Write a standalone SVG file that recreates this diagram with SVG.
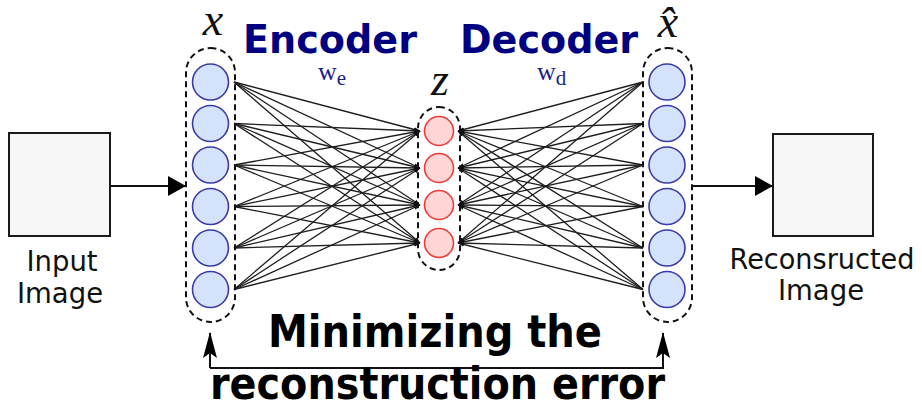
<svg xmlns="http://www.w3.org/2000/svg" width="922" height="412" viewBox="0 0 922 412">
  <style>
    .box { fill: #f7f7f7; stroke: #1a1a1a; stroke-width: 2; }
    .cap { font-family: "DejaVu Sans", Verdana, sans-serif; font-size: 27.5px; fill: #111; text-anchor: middle; }
    .title { font-family: "DejaVu Sans", Verdana, sans-serif; font-weight: bold; font-size: 39px; fill: #000080; }
    .w { font-family: "Liberation Serif", "Times New Roman", serif; font-size: 26px; fill: #1c1c8a; }
    .var { font-family: "Liberation Serif", "Times New Roman", serif; font-style: italic; font-size: 46px; fill: #111; text-anchor: middle; }
    .big { font-family: "DejaVu Sans", Verdana, sans-serif; font-weight: bold; font-size: 45px; fill: #000; text-anchor: middle; }
    .group { fill: none; stroke: #111; stroke-width: 2; stroke-dasharray: 6 4; }
    .xn { fill: #d4e3fb; stroke: #3b3ba8; stroke-width: 1.6; }
    .zn { fill: #ffd6d6; stroke: #f03a3a; stroke-width: 1.6; }
    .w1 { stroke: #1e1e1e; stroke-width: 1.3; fill: none; }
    .arrow { stroke: #111; stroke-width: 2; fill: none; }
  </style>
  <defs>
    <marker id="tiny" viewBox="0 0 10 10" refX="10" refY="5" markerWidth="6" markerHeight="6" markerUnits="userSpaceOnUse" orient="auto">
      <path d="M0,1 L10,5 L0,9 z" fill="#111"/>
    </marker>
    <marker id="head" viewBox="0 0 18 20" refX="18" refY="10" markerWidth="18" markerHeight="20" markerUnits="userSpaceOnUse" orient="auto">
      <path d="M0,0 L18,10 L0,20 z" fill="#000"/>
    </marker>
    <marker id="notch" viewBox="0 0 26 14" refX="25" refY="7" markerWidth="26" markerHeight="14" markerUnits="userSpaceOnUse" orient="auto">
      <path d="M0,0 L26,7 L0,14 L5,7 z" fill="#000"/>
    </marker>
  </defs>

  <!-- image boxes -->
  <g id="input">
    <rect class="box" x="9" y="133" width="101" height="103"/>
    <text class="cap" x="62" y="271">Input</text>
    <text class="cap" x="60" y="303">Image</text>
  </g>
  <g id="output">
    <rect class="box" x="773" y="134" width="100" height="102"/>
    <text class="cap" x="822" y="269" textLength="185" lengthAdjust="spacingAndGlyphs">Reconsructed</text>
    <text class="cap" x="821" y="300">Image</text>
  </g>

  <!-- layer weights -->
  <g id="connectors">
    <g id="encoder-weights" class="w1" marker-end="url(#tiny)">
      <path d="M234,82 L420,131"/><path d="M234,82 L420,168"/><path d="M234,82 L420,205"/><path d="M234,82 L420,243"/>
      <path d="M234,123.5 L420,131"/><path d="M234,123.5 L420,168"/><path d="M234,123.5 L420,205"/><path d="M234,123.5 L420,243"/>
      <path d="M234,165 L420,131"/><path d="M234,165 L420,168"/><path d="M234,165 L420,205"/><path d="M234,165 L420,243"/>
      <path d="M234,206.5 L420,131"/><path d="M234,206.5 L420,168"/><path d="M234,206.5 L420,205"/><path d="M234,206.5 L420,243"/>
      <path d="M234,248 L420,131"/><path d="M234,248 L420,168"/><path d="M234,248 L420,205"/><path d="M234,248 L420,243"/>
      <path d="M234,289.5 L420,131"/><path d="M234,289.5 L420,168"/><path d="M234,289.5 L420,205"/><path d="M234,289.5 L420,243"/>
    </g>
    <g id="decoder-weights" class="w1" marker-end="url(#tiny)">
      <path d="M643,82 L458,131"/><path d="M643,82 L458,168"/><path d="M643,82 L458,205"/><path d="M643,82 L458,243"/>
      <path d="M643,123.5 L458,131"/><path d="M643,123.5 L458,168"/><path d="M643,123.5 L458,205"/><path d="M643,123.5 L458,243"/>
      <path d="M643,165 L458,131"/><path d="M643,165 L458,168"/><path d="M643,165 L458,205"/><path d="M643,165 L458,243"/>
      <path d="M643,206.5 L458,131"/><path d="M643,206.5 L458,168"/><path d="M643,206.5 L458,205"/><path d="M643,206.5 L458,243"/>
      <path d="M643,248 L458,131"/><path d="M643,248 L458,168"/><path d="M643,248 L458,205"/><path d="M643,248 L458,243"/>
      <path d="M643,289.5 L458,131"/><path d="M643,289.5 L458,168"/><path d="M643,289.5 L458,205"/><path d="M643,289.5 L458,243"/>
    </g>
    <path class="arrow" d="M110,186 L186,186" marker-end="url(#head)"/>
    <path class="arrow" d="M692,186 L773,186" marker-end="url(#head)"/>
    <path class="arrow" d="M210,368 L210,333" marker-end="url(#notch)" stroke-width="1.6"/>
    <path class="arrow" d="M210,368 L663,368 L663,333" marker-end="url(#notch)" stroke-width="1.6"/>
  </g>

  <!-- input layer x -->
  <g id="layer-x">
    <rect class="group" x="186" y="48" width="49" height="274" rx="24.5"/>
    <circle class="xn" cx="210.5" cy="82" r="18"/>
    <circle class="xn" cx="210.5" cy="123.5" r="18"/>
    <circle class="xn" cx="210.5" cy="165" r="18"/>
    <circle class="xn" cx="210.5" cy="206.5" r="18"/>
    <circle class="xn" cx="210.5" cy="248" r="18"/>
    <circle class="xn" cx="210.5" cy="289.5" r="18"/>
    <text class="var" x="213" y="35">x</text>
  </g>

  <!-- latent layer z -->
  <g id="layer-z">
    <rect class="group" x="418" y="107" width="42" height="163" rx="21"/>
    <circle class="zn" cx="439" cy="131" r="14.5"/>
    <circle class="zn" cx="439" cy="168" r="14.5"/>
    <circle class="zn" cx="439" cy="205" r="14.5"/>
    <circle class="zn" cx="439" cy="243" r="14.5"/>
    <text class="var" x="440" y="95">z</text>
  </g>

  <!-- output layer x-hat -->
  <g id="layer-xhat">
    <rect class="group" x="643" y="48" width="49" height="274" rx="24.5"/>
    <circle class="xn" cx="667" cy="82" r="18"/>
    <circle class="xn" cx="667" cy="123.5" r="18"/>
    <circle class="xn" cx="667" cy="165" r="18"/>
    <circle class="xn" cx="667" cy="206.5" r="18"/>
    <circle class="xn" cx="667" cy="248" r="18"/>
    <circle class="xn" cx="667" cy="289.5" r="18"/>
    <text class="var" x="668" y="37">x&#x302;</text>
  </g>

  <!-- stage titles -->
  <g id="encoder-label">
    <text class="title" x="243" y="53" textLength="174" lengthAdjust="spacingAndGlyphs">Encoder</text>
    <text class="w" x="318" y="80">w<tspan font-size="21" dy="5">e</tspan></text>
  </g>
  <g id="decoder-label">
    <text class="title" x="460" y="53" textLength="178" lengthAdjust="spacingAndGlyphs">Decoder</text>
    <text class="w" x="537" y="80">w<tspan font-size="21" dy="5">d</tspan></text>
  </g>

  <!-- loss caption -->
  <g id="loss">
    <text class="big" x="435" y="347" textLength="334" lengthAdjust="spacingAndGlyphs">Minimizing the</text>
    <text class="big" x="437.5" y="399" textLength="455" lengthAdjust="spacingAndGlyphs">reconstruction error</text>
  </g>
</svg>
